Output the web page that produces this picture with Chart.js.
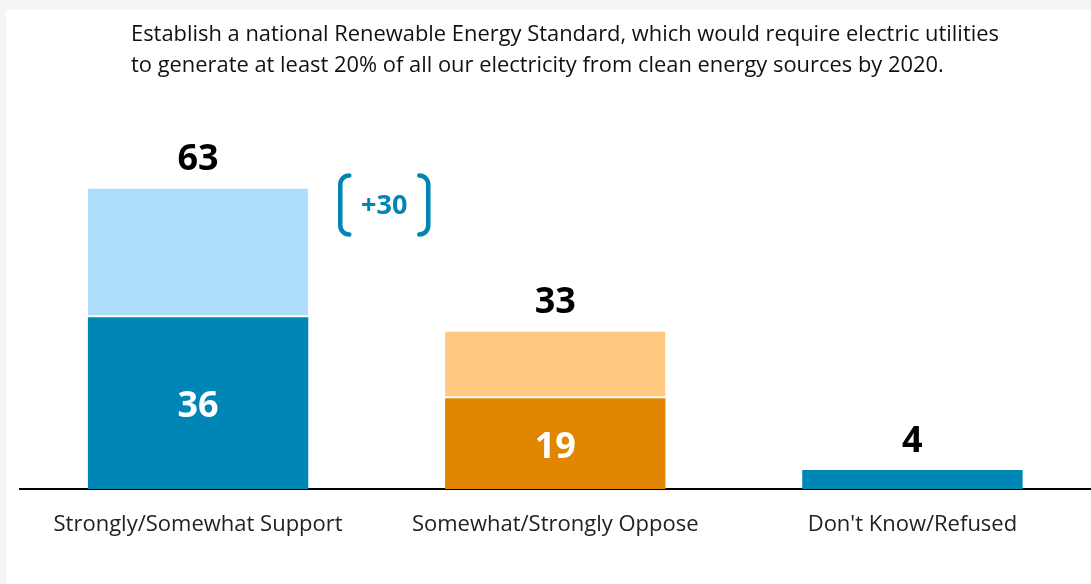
<!DOCTYPE html>
<html><head><meta charset="utf-8">
<script src="https://cdn.jsdelivr.net/npm/chart.js@4.4.0/dist/chart.umd.min.js"></script>
<style>
html,body{margin:0;padding:0;background:#fff;overflow:hidden}
#wrap{position:relative;width:1091px;height:584px}
canvas{display:block}
.edge{position:absolute;background:#f5f5f5}
</style></head><body>
<div id="wrap"><canvas id="c" width="1091" height="584"></canvas>
<div class="edge" style="left:0;top:0;width:1091px;height:10px"></div>
<div class="edge" style="left:0;top:0;width:6px;height:584px"></div>
</div>
<script>
const categories = ['Strongly/Somewhat Support', 'Somewhat/Strongly Oppose', "Don't Know/Refused"];
const strongValues = [36, 19, 4];
const somewhatValues = [27, 14, 0];
const strongColors = ['#0086B6', '#E08600', '#0086B6'];
const somewhatColors = ['#ADDEFC', '#FFCA80', '#ADDEFC'];
const titleLines = [
  'Establish a national Renewable Energy Standard, which would require electric utilities',
  'to generate at least 20% of all our electricity from clean energy sources by 2020.'
];
const diffLabel = '+30';
const yMax = 80;

const FONT = '"Open Sans", "Noto Sans", sans-serif';

const overlayPlugin = {
  id: 'overlay',
  afterDraw(chart) {
    const ctx = chart.ctx;
    const ys = chart.scales.y;
    const m0 = chart.getDatasetMeta(0);
    ctx.save();
    // title
    ctx.fillStyle = '#111';
    ctx.textAlign = 'left';
    ctx.textBaseline = 'alphabetic';
    ctx.font = '21.9px ' + FONT;
    ctx.fillText(titleLines[0], 131, 41);
    ctx.fillText(titleLines[1], 131, 72);
    // value labels
    ctx.textAlign = 'center';
    ctx.textBaseline = 'middle';
    ctx.font = 'bold 36px ' + FONT;
    categories.forEach((c, i) => {
      const bar = m0.data[i];
      const total = strongValues[i] + somewhatValues[i];
      ctx.fillStyle = '#000';
      ctx.fillText(String(total), bar.x, ys.getPixelForValue(total) - 28.5);
      if (somewhatValues[i] > 0) {
        ctx.fillStyle = '#fff';
        ctx.fillText(String(strongValues[i]), bar.x, (bar.y + bar.base) / 2 + 4);
      }
    });
    // bracket with difference
    const b = m0.data[0];
    const top = ys.getPixelForValue(strongValues[0] + somewhatValues[0]) - 13;
    const bot = top + 59;
    const lx = b.x + b.width / 2 + 32;
    const rx = lx + 88;
    const r = 9;
    ctx.strokeStyle = '#0085B5';
    ctx.lineWidth = 4.5;
    ctx.lineCap = 'round';
    ctx.beginPath();
    ctx.moveTo(lx + r, top);
    ctx.arcTo(lx, top, lx, top + r, r);
    ctx.lineTo(lx, bot - r);
    ctx.arcTo(lx, bot, lx + r, bot, r);
    ctx.stroke();
    ctx.beginPath();
    ctx.moveTo(rx - r, top);
    ctx.arcTo(rx, top, rx, top + r, r);
    ctx.lineTo(rx, bot - r);
    ctx.arcTo(rx, bot, rx - r, bot, r);
    ctx.stroke();
    ctx.fillStyle = '#0085B5';
    ctx.font = 'bold 27px ' + FONT;
    ctx.fillText(diffLabel, (lx + rx) / 2, (top + bot) / 2 + 1);
    ctx.restore();
  }
};

new Chart(document.getElementById('c'), {
  type: 'bar',
  data: {
    labels: categories,
    datasets: [
      { label: 'Strongly', data: strongValues, backgroundColor: strongColors, borderWidth: 0 },
      { label: 'Somewhat', data: somewhatValues, backgroundColor: somewhatColors,
        borderColor: '#fff', borderSkipped: false,
        borderWidth: (c) => (c.raw > 0 ? { top: 0, left: 0, right: 0, bottom: 2 } : 0) }
    ]
  },
  options: {
    responsive: false,
    animation: false,
    categoryPercentage: 1,
    barPercentage: 0.617,
    layout: { padding: { top: 107.4, left: 19.5, right: 0, bottom: 0 } },
    plugins: { legend: { display: false }, tooltip: { enabled: false }, title: { display: false } },
    scales: {
      x: {
        stacked: true,
        grid: { display: false, drawTicks: false },
        border: { display: true, color: '#000', width: 2 },
        ticks: { color: '#222', font: { family: FONT, size: 22 }, padding: 23, maxRotation: 0, autoSkip: false },
        afterFit(axis) { axis.height = 95; }
      },
      y: {
        stacked: true, display: false, min: 0, max: yMax,
        grid: { display: false }
      }
    }
  },
  plugins: [overlayPlugin]
});
</script>
</body></html>
